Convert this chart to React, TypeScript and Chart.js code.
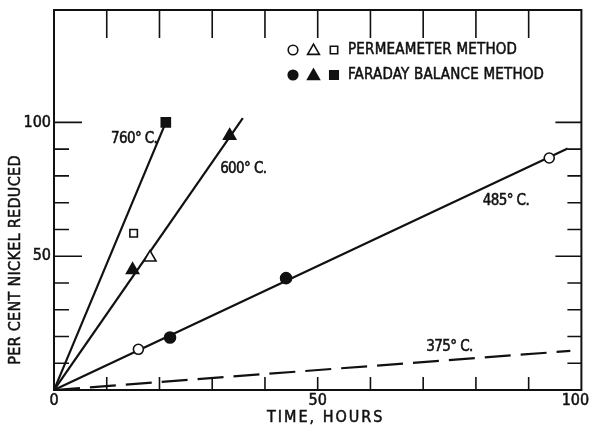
import React, { useEffect, useRef } from "react";
import { Chart, registerables } from "chart.js";

Chart.register(...registerables);

// Fitted reduction lines, one per temperature (time in hours, % Ni reduced)
const hours760 = [0, 21.2];
const reduced760 = [0, 100];
const hours600 = [0, 35.8];
const reduced600 = [0, 101.6];
const hours485 = [0, 97.4];
const reduced485 = [0, 90.2];
const hours375 = [0, 97.9];
const reduced375 = [0, 14.6];

// Permeameter method (open symbols)
const permCircleHours = [16.0, 93.9];
const permCirclePct = [15.2, 86.7];
const permTriangleHours = [18.2];
const permTrianglePct = [49.5];
const permSquareHours = [15.1];
const permSquarePct = [58.6];

// Faraday balance method (filled symbols)
const farCircleHours = [22.0, 44.0];
const farCirclePct = [19.6, 41.8];
const farTriangleHours = [14.9, 33.3];
const farTrianglePct = [44.9, 95.0];
const farSquareHours = [21.2];
const farSquarePct = [100];

// Axes
const xTickValues = [10, 20, 30, 40, 50, 60, 70, 80, 90];
const xLabelValues = [0, 50, 100];
const yTickValues = [10, 20, 30, 40, 50, 60, 70, 80, 90, 100];
const yLabelValues = [50, 100];
const xTitle = "TIME, HOURS";
const yTitle = "PER CENT NICKEL REDUCED";

// Curve labels, anchored in data units (left edge, vertical centre)
const tempLabels = ["760° C.", "600° C.", "485° C.", "375° C."];
const tempLabelHours = [10.8, 31.5, 81.3, 70.6];
const tempLabelPct = [93.9, 82.7, 70.7, 15.9];

const legendRows = ["PERMEAMETER METHOD", "FARADAY BALANCE METHOD"];

const FONT = '"DejaVu Sans Condensed", "Liberation Sans Narrow", "Arial Narrow", sans-serif';
const INK = "#111";

const pts = (xs: number[], ys: number[]) => xs.map((x, i) => ({ x, y: ys[i] }));

function fitLine(xs: number[], ys: number[], dash: number[] = []) {
  return {
    data: pts(xs, ys),
    showLine: true,
    borderColor: INK,
    borderWidth: 2.2,
    borderDash: dash,
    pointRadius: 0,
    fill: false,
    order: 2,
  };
}

function markers(xs: number[], ys: number[], style: string, radius: number, filled: boolean) {
  return {
    data: pts(xs, ys),
    showLine: false,
    pointStyle: style,
    pointRadius: radius,
    pointBackgroundColor: filled ? INK : "#fff",
    pointBorderColor: INK,
    pointBorderWidth: 1.6,
    order: 1,
  };
}

function drawSymbol(ctx: CanvasRenderingContext2D, style: string, x: number, y: number, r: number, filled: boolean) {
  ctx.beginPath();
  if (style === "circle") {
    ctx.arc(x, y, r, 0, Math.PI * 2);
  } else if (style === "triangle") {
    let a = 0;
    ctx.moveTo(x + Math.sin(a) * r, y - Math.cos(a) * r);
    a += (Math.PI * 2) / 3;
    ctx.lineTo(x + Math.sin(a) * r, y - Math.cos(a) * r);
    a += (Math.PI * 2) / 3;
    ctx.lineTo(x + Math.sin(a) * r, y - Math.cos(a) * r);
    ctx.closePath();
  } else {
    const s = Math.SQRT1_2 * r;
    ctx.rect(x - s, y - s, 2 * s, 2 * s);
  }
  ctx.fillStyle = filled ? INK : "#fff";
  ctx.fill();
  ctx.lineWidth = 1.6;
  ctx.strokeStyle = INK;
  ctx.stroke();
}

// Slightly heavier lettering: fill plus a thin outline
function ink(ctx: CanvasRenderingContext2D, text: string, x: number, y: number) {
  ctx.fillText(text, x, y);
  ctx.lineWidth = 0.5;
  ctx.strokeText(text, x, y);
}

const framePlugin = {
  id: "frameAndText",
  afterDatasetsDraw(chart: any) {
    const { ctx, chartArea: a, scales } = chart;
    const xs = scales.x;
    const ys = scales.y;
    ctx.save();
    ctx.strokeStyle = INK;

    // frame
    ctx.lineWidth = 2;
    ctx.strokeRect(a.left, a.top, a.right - a.left, a.bottom - a.top);

    // inward tick marks
    ctx.lineWidth = 1.6;
    ctx.beginPath();
    for (const v of yTickValues) {
      const py = ys.getPixelForValue(v);
      const major = v % 50 === 0;
      ctx.moveTo(a.left, py);
      ctx.lineTo(a.left + (major ? 28 : 15), py);
      ctx.moveTo(a.right, py);
      ctx.lineTo(a.right - (major ? 26 : 14), py);
    }
    for (const v of xTickValues) {
      const px = xs.getPixelForValue(v);
      ctx.moveTo(px, a.top);
      ctx.lineTo(px, a.top + 28);
      ctx.moveTo(px, a.bottom);
      ctx.lineTo(px, a.bottom - 13);
    }
    ctx.stroke();

    ctx.fillStyle = INK;
    ctx.strokeStyle = INK;
    ctx.textBaseline = "middle";

    // tick labels
    ctx.font = `16px ${FONT}`;
    (ctx as any).letterSpacing = "0px";
    ctx.textAlign = "right";
    for (const v of yLabelValues) {
      ink(ctx, String(v), a.left - 3, ys.getPixelForValue(v));
    }
    ctx.textAlign = "center";
    for (const v of xLabelValues) {
      let px = xs.getPixelForValue(v);
      if (v === 100) px -= 6;
      ink(ctx, String(v), px, a.bottom + 11);
    }

    // axis titles
    ctx.font = `16px ${FONT}`;
    (ctx as any).letterSpacing = "2px";
    ink(ctx, xTitle, (a.left + a.right) / 2 + 8, a.bottom + 28);
    (ctx as any).letterSpacing = "0.3px";
    ctx.save();
    ctx.translate(16, (a.top + a.bottom) / 2 + 60);
    ctx.rotate(-Math.PI / 2);
    ink(ctx, yTitle, 0, 0);
    ctx.restore();

    // temperature labels
    (ctx as any).letterSpacing = "-0.6px";
    ctx.font = `15px ${FONT}`;
    ctx.textAlign = "left";
    tempLabels.forEach((t, i) => {
      ink(ctx, t, xs.getPixelForValue(tempLabelHours[i]), ys.getPixelForValue(tempLabelPct[i]));
    });

    // legend
    const lx = a.left + 239;
    const rowY = [a.top + 40, a.top + 65];
    const styles = ["circle", "triangle", "rect"];
    const radii = [4.8, 6.8, 5.2];
    rowY.forEach((ry, row) => {
      styles.forEach((s, k) => {
        drawSymbol(ctx, s, lx + k * 20.5, ry + (s === "triangle" ? 1 : 0), row === 1 && s === "rect" ? 6 : radii[k], row === 1);
      });
      ctx.fillStyle = INK;
      ctx.font = `15px ${FONT}`;
      (ctx as any).letterSpacing = "0.2px";
      ink(ctx, legendRows[row], lx + 55, ry);
    });

    ctx.restore();
  },
};

export default function App() {
  const canvasRef = useRef<HTMLCanvasElement | null>(null);

  useEffect(() => {
    const canvas = canvasRef.current;
    if (!canvas) return;
    const chart = new Chart(canvas, {
      type: "scatter",
      data: {
        datasets: [
          fitLine(hours760, reduced760),
          fitLine(hours600, reduced600),
          fitLine(hours485, reduced485),
          fitLine(hours375, reduced375, [26, 10]),
          markers(permCircleHours, permCirclePct, "circle", 5, false),
          markers(permTriangleHours, permTrianglePct, "triangle", 7, false),
          markers(permSquareHours, permSquarePct, "rect", 5.3, false),
          markers(farCircleHours, farCirclePct, "circle", 5.5, true),
          markers(farTriangleHours, farTrianglePct, "triangle", 7, true),
          markers(farSquareHours, farSquarePct, "rect", 6.4, true),
        ] as any,
      },
      options: {
        responsive: false,
        devicePixelRatio: 1,
        animation: false,
        layout: { padding: { left: 54, right: 6, top: 10, bottom: 38 } },
        scales: {
          x: { type: "linear", min: 0, max: 100, display: false },
          y: { type: "linear", min: 0, max: 142, display: false },
        },
        plugins: {
          legend: { display: false },
          tooltip: { enabled: false },
        },
        elements: { line: { tension: 0 } },
      },
      plugins: [framePlugin],
    });
    return () => chart.destroy();
  }, []);

  return (
    <div style={{ position: "absolute", left: 0, top: 0, width: 590, height: 428, background: "#fff" }}>
      <canvas ref={canvasRef} width={590} height={428} style={{ width: 590, height: 428, display: "block" }} />
    </div>
  );
}
